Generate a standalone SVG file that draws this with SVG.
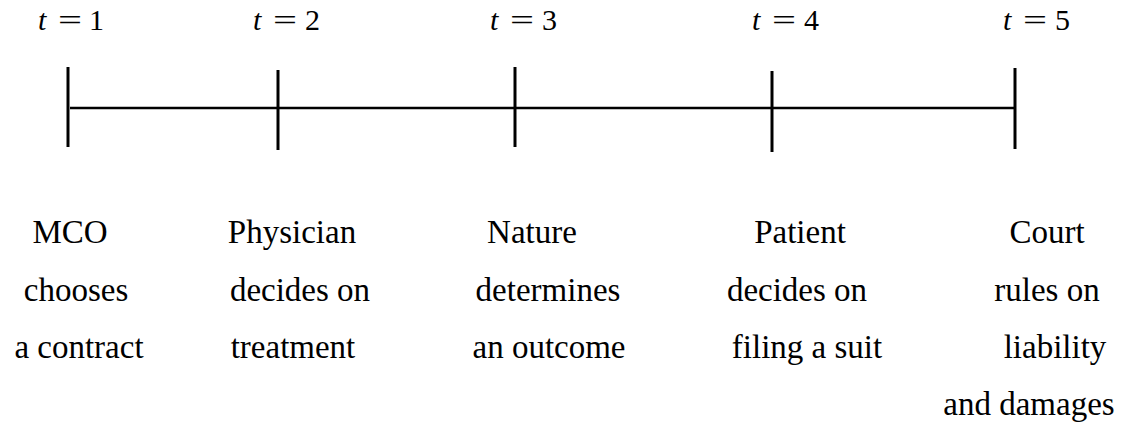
<svg xmlns="http://www.w3.org/2000/svg" width="1127" height="426" viewBox="0 0 1127 426">
<style>
  .bg { fill: #ffffff; }
  .tick { stroke: #000; stroke-width: 3; fill: none; }
  .axis { stroke: #000; stroke-width: 2.7; fill: none; }
  .lbl { font-family: "Liberation Serif", "Times New Roman", serif; font-size: 30px; fill: #000; }
  .it { font-style: italic; }
  .desc { font-family: "Liberation Serif", "Times New Roman", serif; font-size: 33px; fill: #000; text-anchor: middle; }
</style>
<rect class="bg" x="0" y="0" width="1127" height="426"/>

<g id="connectors">
  <line class="axis" x1="70" y1="108" x2="1015" y2="108"/>
</g>

<g id="t1">
  <line class="tick" x1="68" y1="67" x2="68" y2="147"/>
  <text class="lbl it" x="38" y="30">t</text>
  <text class="lbl" x="58" y="30" textLength="24" lengthAdjust="spacingAndGlyphs">=</text>
  <text class="lbl" x="89" y="30">1</text>
  <text class="desc" x="70" y="243">MCO</text>
  <text class="desc" x="76" y="301">chooses</text>
  <text class="desc" x="79" y="358">a contract</text>
</g>

<g id="t2">
  <line class="tick" x1="278" y1="70" x2="278" y2="150"/>
  <text class="lbl it" x="253" y="30">t</text>
  <text class="lbl" x="273" y="30" textLength="24" lengthAdjust="spacingAndGlyphs">=</text>
  <text class="lbl" x="305" y="30">2</text>
  <text class="desc" x="292" y="243">Physician</text>
  <text class="desc" x="300" y="301">decides on</text>
  <text class="desc" x="293" y="358">treatment</text>
</g>

<g id="t3">
  <line class="tick" x1="515" y1="67" x2="515" y2="147"/>
  <text class="lbl it" x="490" y="30">t</text>
  <text class="lbl" x="510" y="30" textLength="24" lengthAdjust="spacingAndGlyphs">=</text>
  <text class="lbl" x="542" y="30">3</text>
  <text class="desc" x="532" y="243">Nature</text>
  <text class="desc" x="548" y="301">determines</text>
  <text class="desc" x="549" y="358">an outcome</text>
</g>

<g id="t4">
  <line class="tick" x1="772" y1="71" x2="772" y2="152"/>
  <text class="lbl it" x="752" y="30">t</text>
  <text class="lbl" x="772" y="30" textLength="24" lengthAdjust="spacingAndGlyphs">=</text>
  <text class="lbl" x="804" y="30">4</text>
  <text class="desc" x="800" y="243">Patient</text>
  <text class="desc" x="797" y="301">decides on</text>
  <text class="desc" x="807" y="358">filing a suit</text>
</g>

<g id="t5">
  <line class="tick" x1="1015" y1="68" x2="1015" y2="149"/>
  <text class="lbl it" x="1003" y="30">t</text>
  <text class="lbl" x="1023" y="30" textLength="24" lengthAdjust="spacingAndGlyphs">=</text>
  <text class="lbl" x="1055" y="30">5</text>
  <text class="desc" x="1047" y="243">Court</text>
  <text class="desc" x="1047" y="301">rules on</text>
  <text class="desc" x="1055" y="358">liability</text>
  <text class="desc" x="1029" y="415">and damages</text>
</g>
</svg>
